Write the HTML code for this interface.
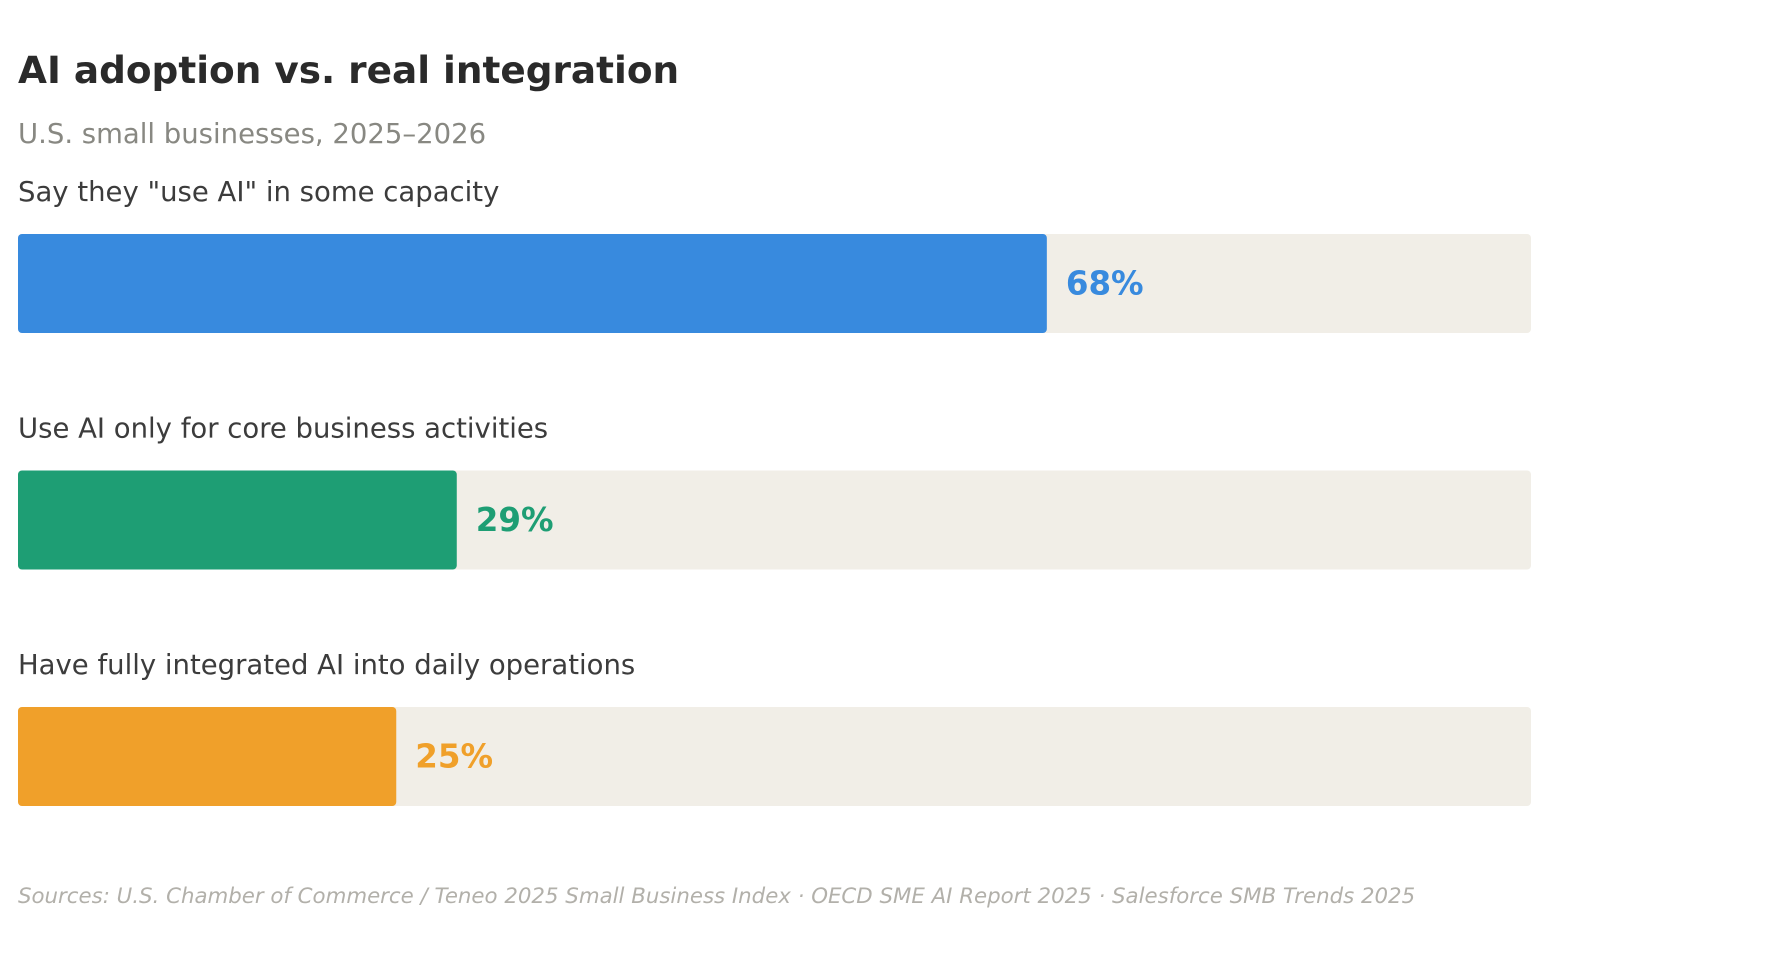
<!DOCTYPE html>
<html><head><meta charset="utf-8"><style>
html,body{margin:0;padding:0;background:#fff;}
body{width:1776px;height:966px;position:relative;overflow:hidden;font-family:"DejaVu Sans","Liberation Sans",sans-serif;}
svg text{font-family:"DejaVu Sans","Liberation Sans",sans-serif;}
</style></head><body>
<svg id="chart" width="1776" height="966" viewBox="0 0 1776 966" xmlns="http://www.w3.org/2000/svg">
<text x="18" y="83" font-size="37.4" font-weight="bold" fill="#2a2a2a">AI adoption vs. real integration</text>
<text x="18" y="143" font-size="27.5" fill="#888882">U.S. small businesses, 2025–2026</text>
<text x="18" y="903" font-size="21.3" font-style="italic" fill="#b2b0aa">Sources: U.S. Chamber of Commerce / Teneo 2025 Small Business Index · OECD SME AI Report 2025 · Salesforce SMB Trends 2025</text>
<g id="bars"></g>
</svg>
<script>
const categories = ['Say they "use AI" in some capacity','Use AI only for core business activities','Have fully integrated AI into daily operations'];
const values = [68, 29, 25];
const valueLabels = ['68%','29%','25%'];
const colors = ['#388ade','#1e9e74','#f0a02a'];

const NS='http://www.w3.org/2000/svg';
const x0=18, trackW=1513, maxV=100;
function xScale(v){return x0 + v/maxV*trackW;}
function rowTop(i){return 234 + i*236.5;}
const barH=99;
const g=document.getElementById('bars');
function mk(tag,attrs){const e=document.createElementNS(NS,tag);for(const k in attrs)e.setAttribute(k,attrs[k]);return e;}
categories.forEach((c,i)=>{
  const top=rowTop(i);
  const lbl=mk('text',{x:x0,y:top-33,'font-size':27.5,fill:'#3c3c3c'});
  lbl.textContent=c;
  
  
  g.appendChild(lbl);
  const track=mk('rect',{x:x0,y:top,width:trackW,height:barH,rx:4,fill:'#f1eee7'});
  
  
  g.appendChild(track);
  const bar=mk('rect',{x:x0,y:top,width:xScale(values[i])-x0,height:barH,rx:4,fill:colors[i]});
  
  
  g.appendChild(bar);
  const vl=mk('text',{x:xScale(values[i])+19,y:top+barH/2+11,'font-size':32.5,'font-weight':'bold',fill:colors[i]});
  vl.textContent=valueLabels[i];
  
  
  g.appendChild(vl);
});
</script>
</body></html>
